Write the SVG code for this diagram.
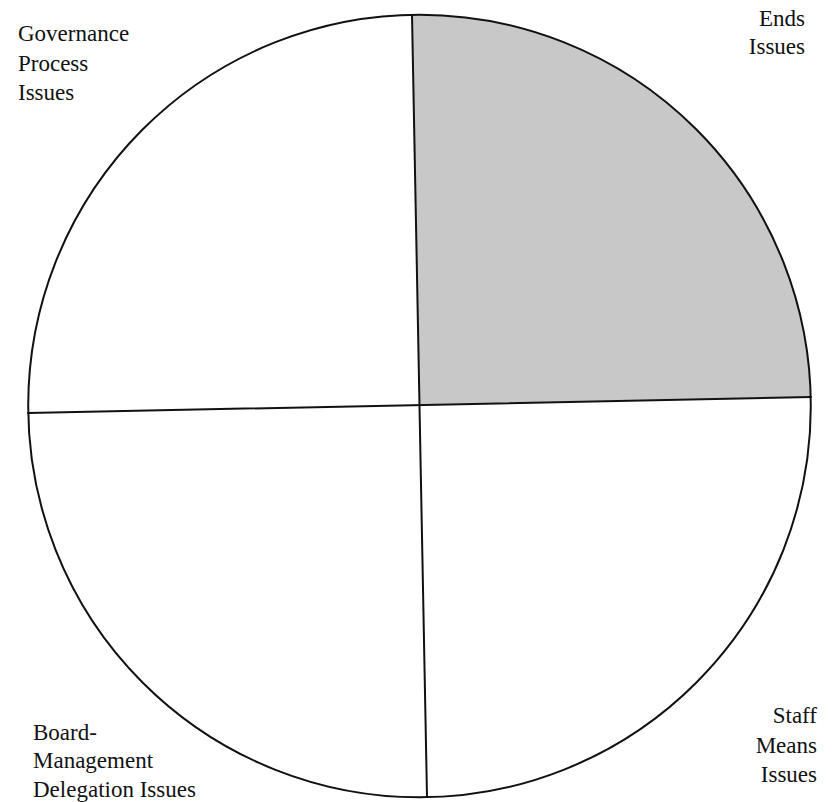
<svg xmlns="http://www.w3.org/2000/svg" width="833" height="802" viewBox="0 0 833 802">
  <style>
    .lbl { font-family: "Liberation Serif", "Times New Roman", serif; font-size: 23px; fill: #111; }
    .end { text-anchor: end; }
    .ln { stroke: #111; stroke-width: 2; fill: none; stroke-linecap: round; }
  </style>
  <rect width="833" height="802" fill="#ffffff"/>
  <g id="ends-quadrant">
    <path d="M419.5,405 L412,15 A391.5,391.5 0 0 1 811,397 Z" fill="#c8c8c8"/>
  </g>
  <g id="connectors">
    <circle class="ln" cx="419.5" cy="406" r="391.3"/>
    <line class="ln" x1="412" y1="15" x2="427" y2="797"/>
    <line class="ln" x1="28" y1="413" x2="811" y2="397"/>
  </g>
  <g id="governance-process-issues">
    <text class="lbl" x="18" y="41">Governance</text>
    <text class="lbl" x="18" y="71">Process</text>
    <text class="lbl" x="18" y="100">Issues</text>
  </g>
  <g id="ends-issues">
    <text class="lbl end" x="805" y="26">Ends</text>
    <text class="lbl end" x="805" y="54">Issues</text>
  </g>
  <g id="board-management-delegation-issues">
    <text class="lbl" x="33" y="740">Board-</text>
    <text class="lbl" x="33" y="768">Management</text>
    <text class="lbl" x="33" y="797">Delegation Issues</text>
  </g>
  <g id="staff-means-issues">
    <text class="lbl end" x="817" y="723">Staff</text>
    <text class="lbl end" x="817" y="753">Means</text>
    <text class="lbl end" x="817" y="782">Issues</text>
  </g>
</svg>
